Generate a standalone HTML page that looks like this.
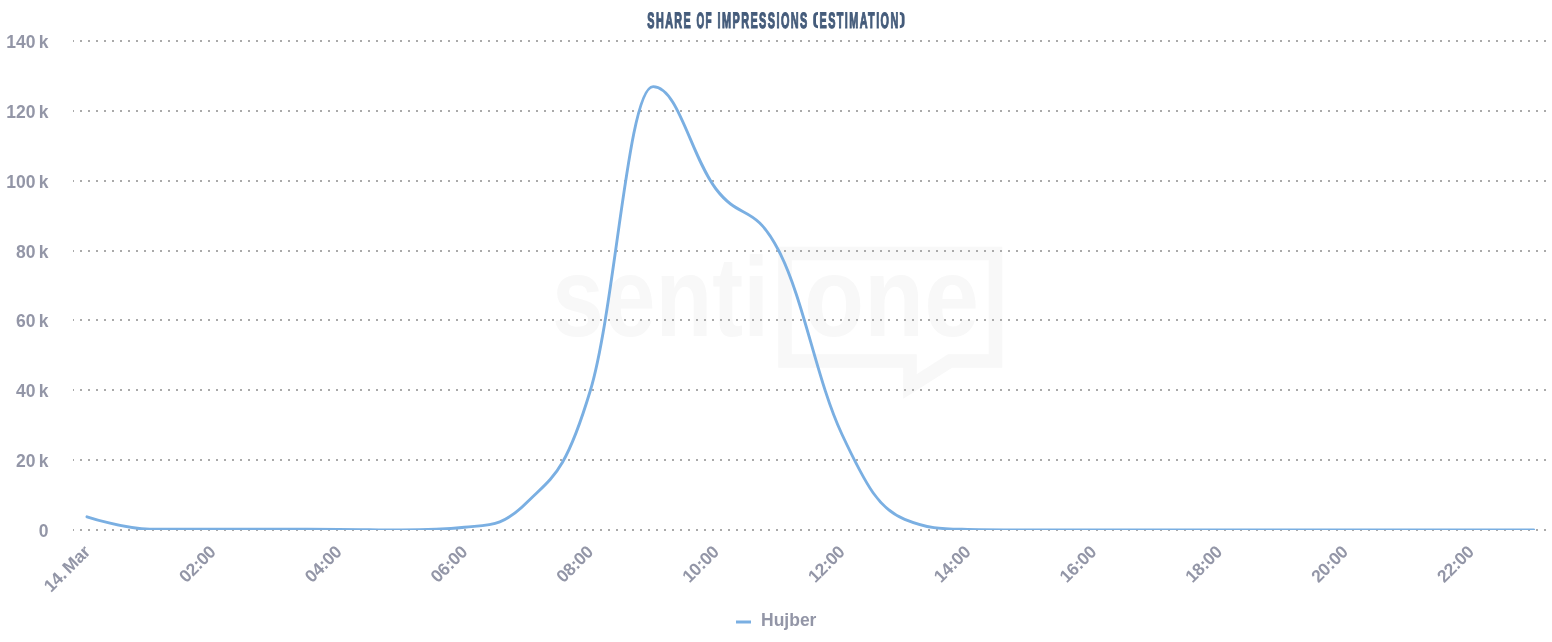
<!DOCTYPE html>
<html><head><meta charset="utf-8"><title>Share of impressions</title>
<style>
html,body{margin:0;padding:0;background:#fff;}
svg{display:block;will-change:transform;font-family:"Liberation Sans",sans-serif;}
.ax text{font-size:17.5px;word-spacing:-1.5px;font-weight:bold;fill:#9396a7;}
.title text{text-rendering:geometricPrecision;font-size:20px;font-weight:bold;fill:#455c7b;}
</style></head><body>
<svg width="1552" height="642" viewBox="0 0 1552 642">
<defs><clipPath id="plot"><rect x="73" y="41" width="1479" height="489"/></clipPath></defs>
<rect width="1552" height="642" fill="#ffffff"/>
<g class="wm" fill="#f8f8f8">
<path d="M785 253.5 H995.5 V361 H950 L910 386.5 V361 H785 Z" fill="none" stroke="#f8f8f8" stroke-width="13.5" stroke-linejoin="miter"/>
<text x="552" y="336" font-size="113" font-weight="bold" textLength="217" lengthAdjust="spacingAndGlyphs">senti</text>
<text x="804" y="336" font-size="113" font-weight="bold" textLength="175" lengthAdjust="spacingAndGlyphs">one</text>
</g>
<g class="grid" shape-rendering="crispEdges">
<rect x="73" y="40" width="1" height="2" fill="#aaaaaa"/><line x1="80" y1="41" x2="1552" y2="41" stroke="#aaaaaa" stroke-width="2" stroke-dasharray="2 6"/>
<rect x="73" y="110" width="1" height="2" fill="#aaaaaa"/><line x1="80" y1="111" x2="1552" y2="111" stroke="#aaaaaa" stroke-width="2" stroke-dasharray="2 6"/>
<rect x="73" y="180" width="1" height="2" fill="#aaaaaa"/><line x1="80" y1="181" x2="1552" y2="181" stroke="#aaaaaa" stroke-width="2" stroke-dasharray="2 6"/>
<rect x="73" y="250" width="1" height="2" fill="#aaaaaa"/><line x1="80" y1="251" x2="1552" y2="251" stroke="#aaaaaa" stroke-width="2" stroke-dasharray="2 6"/>
<rect x="73" y="319" width="1" height="2" fill="#aaaaaa"/><line x1="80" y1="320" x2="1552" y2="320" stroke="#aaaaaa" stroke-width="2" stroke-dasharray="2 6"/>
<rect x="73" y="389" width="1" height="2" fill="#aaaaaa"/><line x1="80" y1="390" x2="1552" y2="390" stroke="#aaaaaa" stroke-width="2" stroke-dasharray="2 6"/>
<rect x="73" y="459" width="1" height="2" fill="#aaaaaa"/><line x1="80" y1="460" x2="1552" y2="460" stroke="#aaaaaa" stroke-width="2" stroke-dasharray="2 6"/>
<rect x="73" y="529" width="1" height="2" fill="#aaaaaa"/><line x1="80" y1="530" x2="1552" y2="530" stroke="#aaaaaa" stroke-width="2" stroke-dasharray="2 6"/>
</g>
<g class="ax">
<text x="48.5" y="48" text-anchor="end">140 k</text>
<text x="48.5" y="118" text-anchor="end">120 k</text>
<text x="48.5" y="188" text-anchor="end">100 k</text>
<text x="48.5" y="258" text-anchor="end">80 k</text>
<text x="48.5" y="327" text-anchor="end">60 k</text>
<text x="48.5" y="397" text-anchor="end">40 k</text>
<text x="48.5" y="467" text-anchor="end">20 k</text>
<text x="48.5" y="537" text-anchor="end">0</text>
<text transform="translate(91.0 553) rotate(-45)" text-anchor="end" letter-spacing="-0.3">14. Mar</text>
<text transform="translate(216.8 553) rotate(-45)" text-anchor="end" letter-spacing="-0.3">02:00</text>
<text transform="translate(342.6 553) rotate(-45)" text-anchor="end" letter-spacing="-0.3">04:00</text>
<text transform="translate(468.4 553) rotate(-45)" text-anchor="end" letter-spacing="-0.3">06:00</text>
<text transform="translate(594.2 553) rotate(-45)" text-anchor="end" letter-spacing="-0.3">08:00</text>
<text transform="translate(720.0 553) rotate(-45)" text-anchor="end" letter-spacing="-0.3">10:00</text>
<text transform="translate(845.8 553) rotate(-45)" text-anchor="end" letter-spacing="-0.3">12:00</text>
<text transform="translate(971.6 553) rotate(-45)" text-anchor="end" letter-spacing="-0.3">14:00</text>
<text transform="translate(1097.4 553) rotate(-45)" text-anchor="end" letter-spacing="-0.3">16:00</text>
<text transform="translate(1223.2 553) rotate(-45)" text-anchor="end" letter-spacing="-0.3">18:00</text>
<text transform="translate(1349.0 553) rotate(-45)" text-anchor="end" letter-spacing="-0.3">20:00</text>
<text transform="translate(1474.8 553) rotate(-45)" text-anchor="end" letter-spacing="-0.3">22:00</text>
</g>
<g clip-path="url(#plot)"><path d="M 87.00 516.80 C 87.00 516.80 124.74 529.10 149.90 529.20 C 175.06 529.30 187.64 529.30 212.80 529.30 C 237.96 529.30 250.54 529.30 275.70 529.30 C 300.86 529.30 313.44 529.30 338.60 529.35 C 363.76 529.40 376.34 530.00 401.50 530.00 C 426.66 530.00 439.24 530.00 464.40 527.30 C 489.56 524.60 502.14 527.30 527.30 502.10 C 552.46 476.90 565.04 474.10 590.20 391.00 C 615.36 307.90 627.94 86.60 653.10 86.60 C 678.26 86.60 690.84 156.12 716.00 189.00 C 741.16 221.88 753.74 202.00 778.90 251.00 C 804.06 300.00 816.64 380.34 841.80 434.00 C 866.96 487.66 879.54 509.20 904.70 519.30 C 929.86 529.40 942.44 528.85 967.60 529.40 C 992.76 529.95 1005.34 529.95 1030.50 529.95 C 1055.66 529.95 1068.24 529.95 1093.40 529.95 C 1118.56 529.95 1131.14 529.95 1156.30 529.95 C 1181.46 529.95 1194.04 529.95 1219.20 529.95 C 1244.36 529.95 1256.94 529.95 1282.10 529.95 C 1307.26 529.95 1319.84 529.95 1345.00 529.95 C 1370.16 529.95 1382.74 529.95 1407.90 529.95 C 1433.06 529.95 1445.64 529.95 1470.80 529.95 C 1495.96 529.95 1533.70 529.95 1533.70 529.95" fill="none" stroke="#7aafe2" stroke-width="2.9" stroke-linejoin="round" stroke-linecap="round"/></g>
<g class="title">
<text transform="translate(647.3 28.3) scale(0.5410 1.11)" letter-spacing="2.6" stroke="#455c7b" stroke-width="1.1" vector-effect="non-scaling-stroke">SHARE</text>
<text transform="translate(696.4 28.3) scale(0.4969 1.11)" letter-spacing="2.6" stroke="#455c7b" stroke-width="1.1" vector-effect="non-scaling-stroke">OF</text>
<text transform="translate(717.6 28.3) scale(0.5439 1.11)" letter-spacing="2.6" stroke="#455c7b" stroke-width="1.1" vector-effect="non-scaling-stroke">IMPRESSIONS</text>
<text transform="translate(819.6 28.3) scale(0.5411 1.11)" letter-spacing="2.6" stroke="#455c7b" stroke-width="1.1" vector-effect="non-scaling-stroke">ESTIMATION</text>
<path d="M 818 13.3 Q 814.6 13.3 814.6 17 V 23.1 Q 814.6 26.8 818 26.8 M 899.8 13.3 Q 903.2 13.3 903.2 17 V 23.1 Q 903.2 26.8 899.8 26.8" fill="none" stroke="#455c7b" stroke-width="2.8"/>
</g>
<g class="ax legend">
<line x1="736" y1="622" x2="751" y2="622" stroke="#7aafe2" stroke-width="3"/>
<text x="761" y="626">Hujber</text>
</g>
</svg>
</body></html>
